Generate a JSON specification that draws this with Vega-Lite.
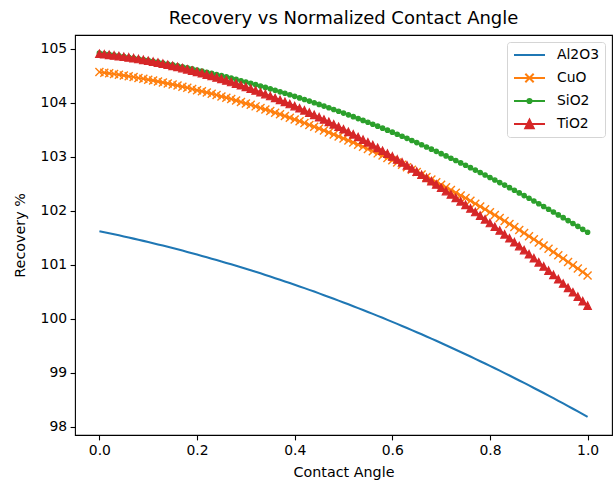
{
  "$schema": "https://vega.github.io/schema/vega-lite/v6.json",
  "width": 537,
  "height": 400,
  "autosize": {"type": "none"},
  "padding": {"left": 75, "top": 35, "right": 3, "bottom": 47},
  "background": "white",
  "config": {
    "font": "DejaVu Sans",
    "view": {"stroke": "black", "strokeWidth": 1.1},
    "axis": {
      "domain": false,
      "grid": false,
      "tickColor": "black",
      "tickSize": 4.9,
      "tickWidth": 1.1,
      "labelColor": "black",
      "labelFont": "DejaVu Sans",
      "labelFontSize": 13.9,
      "labelPadding": 3.5,
      "titleColor": "black",
      "titleFont": "DejaVu Sans",
      "titleFontSize": 14.3,
      "titleFontWeight": "normal"
    }
  },
  "title": {
    "text": "Recovery vs Normalized Contact Angle",
    "font": "DejaVu Sans",
    "fontSize": 18,
    "fontWeight": "normal",
    "color": "black",
    "anchor": "middle",
    "baseline": "bottom",
    "offset": 5,
    "dy": 16
  },
  "data": {
    "values": [
      {"x": 0.00, "Al2O3": 101.620, "CuO": 104.570, "SiO2": 104.920, "TiO2": 104.910},
      {"x": 0.01, "Al2O3": 101.601, "CuO": 104.558, "SiO2": 104.909, "TiO2": 104.900},
      {"x": 0.02, "Al2O3": 101.583, "CuO": 104.546, "SiO2": 104.897, "TiO2": 104.890},
      {"x": 0.03, "Al2O3": 101.563, "CuO": 104.533, "SiO2": 104.884, "TiO2": 104.879},
      {"x": 0.04, "Al2O3": 101.544, "CuO": 104.520, "SiO2": 104.872, "TiO2": 104.867},
      {"x": 0.05, "Al2O3": 101.524, "CuO": 104.506, "SiO2": 104.859, "TiO2": 104.854},
      {"x": 0.06, "Al2O3": 101.504, "CuO": 104.492, "SiO2": 104.845, "TiO2": 104.841},
      {"x": 0.07, "Al2O3": 101.483, "CuO": 104.477, "SiO2": 104.831, "TiO2": 104.827},
      {"x": 0.08, "Al2O3": 101.463, "CuO": 104.461, "SiO2": 104.816, "TiO2": 104.812},
      {"x": 0.09, "Al2O3": 101.441, "CuO": 104.445, "SiO2": 104.801, "TiO2": 104.796},
      {"x": 0.10, "Al2O3": 101.420, "CuO": 104.429, "SiO2": 104.786, "TiO2": 104.780},
      {"x": 0.11, "Al2O3": 101.398, "CuO": 104.412, "SiO2": 104.770, "TiO2": 104.762},
      {"x": 0.12, "Al2O3": 101.376, "CuO": 104.394, "SiO2": 104.754, "TiO2": 104.745},
      {"x": 0.13, "Al2O3": 101.354, "CuO": 104.376, "SiO2": 104.737, "TiO2": 104.726},
      {"x": 0.14, "Al2O3": 101.331, "CuO": 104.358, "SiO2": 104.720, "TiO2": 104.706},
      {"x": 0.15, "Al2O3": 101.308, "CuO": 104.339, "SiO2": 104.703, "TiO2": 104.686},
      {"x": 0.16, "Al2O3": 101.285, "CuO": 104.319, "SiO2": 104.684, "TiO2": 104.665},
      {"x": 0.17, "Al2O3": 101.261, "CuO": 104.299, "SiO2": 104.666, "TiO2": 104.644},
      {"x": 0.18, "Al2O3": 101.237, "CuO": 104.278, "SiO2": 104.647, "TiO2": 104.621},
      {"x": 0.19, "Al2O3": 101.213, "CuO": 104.257, "SiO2": 104.628, "TiO2": 104.598},
      {"x": 0.20, "Al2O3": 101.188, "CuO": 104.235, "SiO2": 104.608, "TiO2": 104.574},
      {"x": 0.21, "Al2O3": 101.163, "CuO": 104.213, "SiO2": 104.588, "TiO2": 104.550},
      {"x": 0.22, "Al2O3": 101.138, "CuO": 104.190, "SiO2": 104.567, "TiO2": 104.524},
      {"x": 0.23, "Al2O3": 101.112, "CuO": 104.167, "SiO2": 104.546, "TiO2": 104.498},
      {"x": 0.24, "Al2O3": 101.086, "CuO": 104.143, "SiO2": 104.524, "TiO2": 104.471},
      {"x": 0.25, "Al2O3": 101.060, "CuO": 104.119, "SiO2": 104.503, "TiO2": 104.444},
      {"x": 0.26, "Al2O3": 101.033, "CuO": 104.094, "SiO2": 104.480, "TiO2": 104.415},
      {"x": 0.27, "Al2O3": 101.007, "CuO": 104.069, "SiO2": 104.457, "TiO2": 104.386},
      {"x": 0.28, "Al2O3": 100.979, "CuO": 104.043, "SiO2": 104.434, "TiO2": 104.356},
      {"x": 0.29, "Al2O3": 100.952, "CuO": 104.016, "SiO2": 104.410, "TiO2": 104.326},
      {"x": 0.30, "Al2O3": 100.924, "CuO": 103.989, "SiO2": 104.386, "TiO2": 104.294},
      {"x": 0.31, "Al2O3": 100.896, "CuO": 103.962, "SiO2": 104.361, "TiO2": 104.262},
      {"x": 0.32, "Al2O3": 100.867, "CuO": 103.934, "SiO2": 104.336, "TiO2": 104.229},
      {"x": 0.33, "Al2O3": 100.839, "CuO": 103.905, "SiO2": 104.311, "TiO2": 104.196},
      {"x": 0.34, "Al2O3": 100.809, "CuO": 103.876, "SiO2": 104.285, "TiO2": 104.161},
      {"x": 0.35, "Al2O3": 100.780, "CuO": 103.847, "SiO2": 104.259, "TiO2": 104.126},
      {"x": 0.36, "Al2O3": 100.750, "CuO": 103.816, "SiO2": 104.232, "TiO2": 104.090},
      {"x": 0.37, "Al2O3": 100.720, "CuO": 103.786, "SiO2": 104.204, "TiO2": 104.054},
      {"x": 0.38, "Al2O3": 100.690, "CuO": 103.755, "SiO2": 104.177, "TiO2": 104.017},
      {"x": 0.39, "Al2O3": 100.659, "CuO": 103.723, "SiO2": 104.149, "TiO2": 103.978},
      {"x": 0.40, "Al2O3": 100.628, "CuO": 103.691, "SiO2": 104.120, "TiO2": 103.940},
      {"x": 0.41, "Al2O3": 100.597, "CuO": 103.658, "SiO2": 104.091, "TiO2": 103.900},
      {"x": 0.42, "Al2O3": 100.565, "CuO": 103.625, "SiO2": 104.062, "TiO2": 103.860},
      {"x": 0.43, "Al2O3": 100.533, "CuO": 103.591, "SiO2": 104.032, "TiO2": 103.819},
      {"x": 0.44, "Al2O3": 100.501, "CuO": 103.557, "SiO2": 104.001, "TiO2": 103.777},
      {"x": 0.45, "Al2O3": 100.468, "CuO": 103.522, "SiO2": 103.971, "TiO2": 103.734},
      {"x": 0.46, "Al2O3": 100.435, "CuO": 103.487, "SiO2": 103.939, "TiO2": 103.691},
      {"x": 0.47, "Al2O3": 100.402, "CuO": 103.451, "SiO2": 103.908, "TiO2": 103.647},
      {"x": 0.48, "Al2O3": 100.368, "CuO": 103.414, "SiO2": 103.876, "TiO2": 103.602},
      {"x": 0.49, "Al2O3": 100.334, "CuO": 103.377, "SiO2": 103.843, "TiO2": 103.556},
      {"x": 0.50, "Al2O3": 100.300, "CuO": 103.340, "SiO2": 103.810, "TiO2": 103.510},
      {"x": 0.51, "Al2O3": 100.265, "CuO": 103.302, "SiO2": 103.777, "TiO2": 103.463},
      {"x": 0.52, "Al2O3": 100.231, "CuO": 103.264, "SiO2": 103.743, "TiO2": 103.415},
      {"x": 0.53, "Al2O3": 100.195, "CuO": 103.225, "SiO2": 103.708, "TiO2": 103.367},
      {"x": 0.54, "Al2O3": 100.160, "CuO": 103.185, "SiO2": 103.674, "TiO2": 103.317},
      {"x": 0.55, "Al2O3": 100.124, "CuO": 103.145, "SiO2": 103.639, "TiO2": 103.267},
      {"x": 0.56, "Al2O3": 100.088, "CuO": 103.104, "SiO2": 103.603, "TiO2": 103.216},
      {"x": 0.57, "Al2O3": 100.051, "CuO": 103.063, "SiO2": 103.567, "TiO2": 103.165},
      {"x": 0.58, "Al2O3": 100.015, "CuO": 103.022, "SiO2": 103.530, "TiO2": 103.112},
      {"x": 0.59, "Al2O3": 99.977, "CuO": 102.979, "SiO2": 103.493, "TiO2": 103.059},
      {"x": 0.60, "Al2O3": 99.940, "CuO": 102.937, "SiO2": 103.456, "TiO2": 103.006},
      {"x": 0.61, "Al2O3": 99.902, "CuO": 102.894, "SiO2": 103.418, "TiO2": 102.951},
      {"x": 0.62, "Al2O3": 99.864, "CuO": 102.850, "SiO2": 103.380, "TiO2": 102.896},
      {"x": 0.63, "Al2O3": 99.826, "CuO": 102.806, "SiO2": 103.341, "TiO2": 102.840},
      {"x": 0.64, "Al2O3": 99.787, "CuO": 102.761, "SiO2": 103.302, "TiO2": 102.783},
      {"x": 0.65, "Al2O3": 99.748, "CuO": 102.716, "SiO2": 103.263, "TiO2": 102.725},
      {"x": 0.66, "Al2O3": 99.709, "CuO": 102.670, "SiO2": 103.222, "TiO2": 102.667},
      {"x": 0.67, "Al2O3": 99.669, "CuO": 102.623, "SiO2": 103.182, "TiO2": 102.608},
      {"x": 0.68, "Al2O3": 99.629, "CuO": 102.577, "SiO2": 103.141, "TiO2": 102.548},
      {"x": 0.69, "Al2O3": 99.589, "CuO": 102.529, "SiO2": 103.100, "TiO2": 102.488},
      {"x": 0.70, "Al2O3": 99.548, "CuO": 102.481, "SiO2": 103.058, "TiO2": 102.426},
      {"x": 0.71, "Al2O3": 99.507, "CuO": 102.433, "SiO2": 103.016, "TiO2": 102.364},
      {"x": 0.72, "Al2O3": 99.466, "CuO": 102.384, "SiO2": 102.973, "TiO2": 102.302},
      {"x": 0.73, "Al2O3": 99.424, "CuO": 102.334, "SiO2": 102.930, "TiO2": 102.238},
      {"x": 0.74, "Al2O3": 99.382, "CuO": 102.284, "SiO2": 102.886, "TiO2": 102.174},
      {"x": 0.75, "Al2O3": 99.340, "CuO": 102.234, "SiO2": 102.843, "TiO2": 102.109},
      {"x": 0.76, "Al2O3": 99.297, "CuO": 102.183, "SiO2": 102.798, "TiO2": 102.043},
      {"x": 0.77, "Al2O3": 99.255, "CuO": 102.131, "SiO2": 102.753, "TiO2": 101.976},
      {"x": 0.78, "Al2O3": 99.211, "CuO": 102.079, "SiO2": 102.708, "TiO2": 101.909},
      {"x": 0.79, "Al2O3": 99.168, "CuO": 102.026, "SiO2": 102.662, "TiO2": 101.841},
      {"x": 0.80, "Al2O3": 99.124, "CuO": 101.973, "SiO2": 102.616, "TiO2": 101.772},
      {"x": 0.81, "Al2O3": 99.080, "CuO": 101.920, "SiO2": 102.569, "TiO2": 101.703},
      {"x": 0.82, "Al2O3": 99.035, "CuO": 101.865, "SiO2": 102.522, "TiO2": 101.633},
      {"x": 0.83, "Al2O3": 98.991, "CuO": 101.811, "SiO2": 102.475, "TiO2": 101.562},
      {"x": 0.84, "Al2O3": 98.945, "CuO": 101.755, "SiO2": 102.427, "TiO2": 101.490},
      {"x": 0.85, "Al2O3": 98.900, "CuO": 101.700, "SiO2": 102.379, "TiO2": 101.417},
      {"x": 0.86, "Al2O3": 98.854, "CuO": 101.643, "SiO2": 102.330, "TiO2": 101.344},
      {"x": 0.87, "Al2O3": 98.808, "CuO": 101.586, "SiO2": 102.280, "TiO2": 101.270},
      {"x": 0.88, "Al2O3": 98.762, "CuO": 101.529, "SiO2": 102.231, "TiO2": 101.195},
      {"x": 0.89, "Al2O3": 98.715, "CuO": 101.471, "SiO2": 102.181, "TiO2": 101.120},
      {"x": 0.90, "Al2O3": 98.668, "CuO": 101.413, "SiO2": 102.130, "TiO2": 101.044},
      {"x": 0.91, "Al2O3": 98.621, "CuO": 101.354, "SiO2": 102.079, "TiO2": 100.967},
      {"x": 0.92, "Al2O3": 98.573, "CuO": 101.294, "SiO2": 102.028, "TiO2": 100.889},
      {"x": 0.93, "Al2O3": 98.525, "CuO": 101.234, "SiO2": 101.976, "TiO2": 100.810},
      {"x": 0.94, "Al2O3": 98.477, "CuO": 101.174, "SiO2": 101.923, "TiO2": 100.731},
      {"x": 0.95, "Al2O3": 98.428, "CuO": 101.113, "SiO2": 101.871, "TiO2": 100.651},
      {"x": 0.96, "Al2O3": 98.379, "CuO": 101.051, "SiO2": 101.817, "TiO2": 100.570},
      {"x": 0.97, "Al2O3": 98.330, "CuO": 100.989, "SiO2": 101.764, "TiO2": 100.489},
      {"x": 0.98, "Al2O3": 98.280, "CuO": 100.927, "SiO2": 101.710, "TiO2": 100.407},
      {"x": 0.99, "Al2O3": 98.230, "CuO": 100.864, "SiO2": 101.655, "TiO2": 100.324},
      {"x": 1.00, "Al2O3": 98.180, "CuO": 100.800, "SiO2": 101.600, "TiO2": 100.240}
    ]
  },
  "transform": [{"fold": ["Al2O3", "CuO", "SiO2", "TiO2"], "as": ["series", "value"]}],
  "encoding": {
    "x": {
      "field": "x",
      "type": "quantitative",
      "scale": {"domain": [-0.05, 1.05], "nice": false, "zero": false},
      "axis": {"values": [0, 0.2, 0.4, 0.6, 0.8, 1], "format": ".1f", "title": "Contact Angle", "labelFlush": false, "titlePadding": 8}
    },
    "y": {
      "field": "value",
      "type": "quantitative",
      "scale": {"domain": [97.843, 105.257], "nice": false, "zero": false},
      "axis": {"values": [98, 99, 100, 101, 102, 103, 104, 105], "title": "Recovery %", "titlePadding": 13}
    }
  },
  "layer": [
    {
      "transform": [{"filter": "datum.series === 'Al2O3'"}],
      "mark": {"type": "line", "strokeWidth": 2.08},
      "encoding": {
        "color": {
          "field": "series",
          "type": "nominal",
          "scale": {"domain": ["Al2O3", "CuO", "SiO2", "TiO2"], "range": ["#1f77b4", "#ff7f0e", "#2ca02c", "#d62728"]},
          "legend": {
            "title": null,
            "orient": "top-right",
            "offset": 7,
            "padding": 6,
            "fillColor": "white",
            "strokeColor": "#d5d5d5",
            "cornerRadius": 3,
            "symbolSize": 961,
            "symbolStrokeWidth": 2,
            "labelFont": "DejaVu Sans",
            "labelFontSize": 13.9,
            "labelColor": "black",
            "labelOffset": 11,
            "rowPadding": 9,
            "clipHeight": 14,
            "encode": {
              "symbols": {
                "update": {
                  "shape": {"signal": "datum.value === 'CuO' ? 'M-1,0L1,0M-0.27,-0.27L0.27,0.27M0.27,-0.27L-0.27,0.27' : datum.value === 'SiO2' ? 'M-1,0L1,0M0.135,0A0.135,0.135,0,1,1,-0.135,0A0.135,0.135,0,1,1,0.135,0Z' : datum.value === 'TiO2' ? 'M-1,0L1,0M0,-0.27L-0.27,0.27L0.27,0.27Z' : 'M-1,0L1,0'"},
                  "fill": {"signal": "datum.value === 'SiO2' ? '#2ca02c' : datum.value === 'TiO2' ? '#d62728' : 'transparent'"},
                  "strokeWidth": {"value": 2}
                }
              }
            }
          }
        }
      }
    },
    {
      "transform": [{"filter": "datum.series === 'CuO'"}],
      "mark": {"type": "line", "strokeWidth": 2.08},
      "encoding": {"color": {"field": "series", "type": "nominal"}}
    },
    {
      "transform": [{"filter": "datum.series === 'CuO'"}],
      "mark": {"type": "point", "shape": "M-1,-1L1,1M1,-1L-1,1", "filled": false, "size": 64, "strokeWidth": 1.4, "stroke": "#ff7f0e", "opacity": 1}
    },
    {
      "transform": [{"filter": "datum.series === 'SiO2'"}],
      "mark": {"type": "line", "strokeWidth": 2.08},
      "encoding": {"color": {"field": "series", "type": "nominal"}}
    },
    {
      "transform": [{"filter": "datum.series === 'SiO2'"}],
      "mark": {"type": "point", "shape": "circle", "filled": true, "size": 18, "strokeWidth": 1.4, "fill": "#2ca02c", "stroke": "#2ca02c", "opacity": 1}
    },
    {
      "transform": [{"filter": "datum.series === 'TiO2'"}],
      "mark": {"type": "line", "strokeWidth": 2.08},
      "encoding": {"color": {"field": "series", "type": "nominal"}}
    },
    {
      "transform": [{"filter": "datum.series === 'TiO2'"}],
      "mark": {"type": "point", "shape": "M0,-1L-1,1L1,1Z", "filled": true, "size": 56, "strokeWidth": 1.2, "fill": "#d62728", "stroke": "#d62728", "opacity": 1}
    }
  ]
}
